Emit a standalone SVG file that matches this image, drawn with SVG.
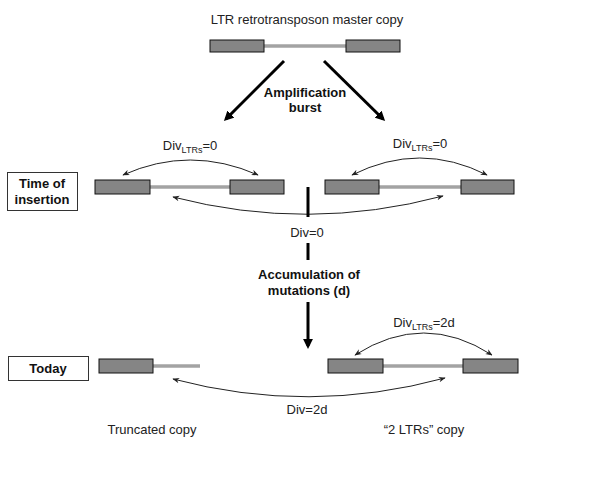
<svg xmlns="http://www.w3.org/2000/svg" width="600" height="480" viewBox="0 0 600 480">
<defs>
<style>
.t{font-family:"Liberation Sans",Arial,sans-serif;font-size:13px;fill:#222;text-anchor:middle}
.b{font-weight:bold;fill:#111}
.sub{font-size:9px}
.ltr{fill:#858585;stroke:#111;stroke-width:1}
.int{stroke:#a3a3a3;stroke-width:3.5}
.arc{fill:none;stroke:#222;stroke-width:1}
.thick{stroke:#000;stroke-width:3;fill:none}
.lbl{fill:#fff;stroke:#333;stroke-width:1}
</style>
<marker id="sa" viewBox="0 0 10 10" refX="9" refY="5" markerWidth="7" markerHeight="7" orient="auto-start-reverse" markerUnits="userSpaceOnUse">
<path d="M0,1 L10,5 L0,9 L3,5 Z" fill="#222"/>
</marker>
<marker id="ba" viewBox="0 0 10 10" refX="7" refY="5" markerWidth="3.3" markerHeight="3.3" orient="auto" markerUnits="strokeWidth">
<path d="M0,0 L10,5 L0,10 Z" fill="#000"/>
</marker>
</defs>
<rect width="600" height="480" fill="#fff"/>

<g id="master">
<text class="t" x="307" y="24">LTR retrotransposon master copy</text>
<line class="int" x1="264" y1="46" x2="346" y2="46"/>
<rect class="ltr" x="210" y="40" width="54" height="12"/>
<rect class="ltr" x="346" y="40" width="54" height="12"/>
</g>

<g id="label-amplification">
<text class="t b" x="305" y="97">Amplification</text>
<text class="t b" x="305" y="112">burst</text>
</g>

<g id="label-insertion">
<rect class="lbl" x="7.5" y="172.5" width="70" height="38"/>
<text class="t b" x="42" y="188">Time of</text>
<text class="t b" x="42" y="204">insertion</text>
</g>

<g id="copy-left-insertion">
<line class="int" x1="150" y1="187" x2="230" y2="187"/>
<rect class="ltr" x="95" y="180" width="55" height="14"/>
<rect class="ltr" x="230" y="180" width="54" height="14"/>
<text class="t" x="190" y="150">Div<tspan class="sub" dy="3">LTRs</tspan><tspan dy="-3">=0</tspan></text>
</g>

<g id="copy-right-insertion">
<line class="int" x1="379" y1="187" x2="461" y2="187"/>
<rect class="ltr" x="325" y="180" width="54" height="14"/>
<rect class="ltr" x="461" y="180" width="53" height="14"/>
<text class="t" x="420" y="148">Div<tspan class="sub" dy="3">LTRs</tspan><tspan dy="-3">=0</tspan></text>
</g>

<g id="label-div0">
<text class="t" x="307" y="237">Div=0</text>
</g>

<g id="label-accumulation">
<text class="t b" x="309" y="279">Accumulation of</text>
<text class="t b" x="309" y="295">mutations (d)</text>
</g>

<g id="label-today">
<rect class="lbl" x="8.5" y="356.5" width="80" height="24"/>
<text class="t b" x="48" y="373">Today</text>
</g>

<g id="copy-truncated">
<line class="int" x1="153" y1="366" x2="200" y2="366"/>
<rect class="ltr" x="99" y="359" width="54" height="14"/>
<text class="t" x="152" y="434">Truncated copy</text>
</g>

<g id="copy-2ltrs">
<line class="int" x1="383" y1="366" x2="463" y2="366"/>
<rect class="ltr" x="328" y="359" width="55" height="14"/>
<rect class="ltr" x="463" y="359" width="55" height="14"/>
<text class="t" x="424" y="327">Div<tspan class="sub" dy="3">LTRs</tspan><tspan dy="-3">=2d</tspan></text>
<text class="t" x="424" y="434">“2 LTRs” copy</text>
</g>

<g id="label-div2d">
<text class="t" x="307" y="414">Div=2d</text>
</g>

<g id="connectors">
<line class="thick" x1="284" y1="61" x2="226" y2="119" marker-end="url(#ba)"/>
<line class="thick" x1="324" y1="61" x2="383" y2="119" marker-end="url(#ba)"/>
<path class="arc" d="M123,175 Q190,145 258,175" marker-start="url(#sa)" marker-end="url(#sa)"/>
<path class="arc" d="M352,175 Q420,141 487,175" marker-start="url(#sa)" marker-end="url(#sa)"/>
<path class="arc" d="M173,197 Q308,232 443,196" marker-start="url(#sa)" marker-end="url(#sa)"/>
<line class="thick" x1="308" y1="187" x2="308" y2="217"/>
<line class="thick" x1="308" y1="243" x2="308" y2="260"/>
<line class="thick" x1="308" y1="302" x2="308" y2="346" marker-end="url(#ba)"/>
<path class="arc" d="M355,355 Q424,311 492,355" marker-start="url(#sa)" marker-end="url(#sa)"/>
<path class="arc" d="M173,379 Q309,415 445,378" marker-start="url(#sa)" marker-end="url(#sa)"/>
</g>
</svg>
